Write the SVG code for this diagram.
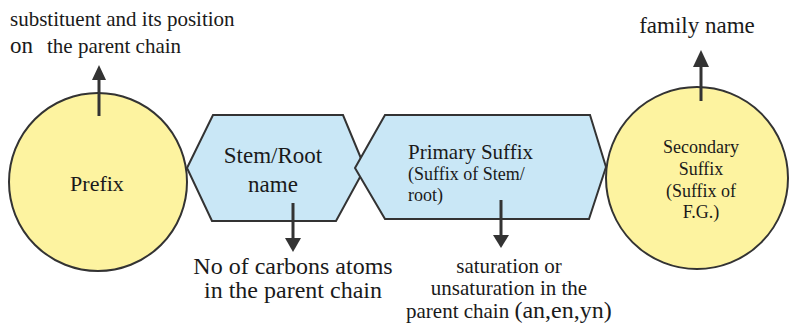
<svg xmlns="http://www.w3.org/2000/svg" width="789" height="325" viewBox="0 0 789 325">
<style>
.t{font-family:'Liberation Serif','DejaVu Serif','Times New Roman',Times,serif;fill:#1a1a1a}
.circ{fill:#fdf3a0;stroke:#333;stroke-width:2}
.hex{fill:#c9e7f6;stroke:#333;stroke-width:2;stroke-linejoin:miter}
.arr{stroke:#333;stroke-width:3;fill:none}
.head{fill:#333}
</style>
<rect width="789" height="325" fill="#fff"/>
<g id="prefix">
<circle class="circ" cx="98" cy="182" r="89"/>
<text class="t" x="97" y="191" font-size="22" text-anchor="middle">Prefix</text>
</g>
<g id="stem">
<polygon class="hex" points="187,168 213,115 343,115 365,168 336,221 212,221"/>
<text class="t" x="273" y="163" font-size="23" text-anchor="middle">Stem/Root</text>
<text class="t" x="273" y="192" font-size="23" text-anchor="middle">name</text>
</g>
<g id="primary">
<polygon class="hex" points="355,168 385,115 590,115 606,167 589,219 385,219"/>
<text class="t" x="408" y="159" font-size="21">Primary Suffix</text>
<text class="t" x="408" y="180" font-size="18">(Suffix of Stem/</text>
<text class="t" x="408" y="201" font-size="18">root)</text>
</g>
<g id="secondary">
<circle class="circ" cx="697" cy="178" r="91"/>
<text class="t" x="701" y="153" font-size="18" text-anchor="middle">Secondary</text>
<text class="t" x="701" y="175" font-size="18" text-anchor="middle">Suffix</text>
<text class="t" x="701" y="197" font-size="18" text-anchor="middle">(Suffix of</text>
<text class="t" x="701" y="218" font-size="18" text-anchor="middle">F.G.)</text>
</g>
<g id="connectors">
<line class="arr" x1="99" y1="116" x2="99" y2="78"/>
<polygon class="head" points="92,80 106,80 99,65"/>
<line class="arr" x1="701" y1="101" x2="701" y2="65"/>
<polygon class="head" points="693,67 709,67 701,50"/>
<line class="arr" x1="293" y1="203" x2="293" y2="240"/>
<polygon class="head" points="285,238 301,238 293,252"/>
<line class="arr" x1="501" y1="200" x2="501" y2="237"/>
<polygon class="head" points="493,235 509,235 501,248"/>
</g>
<g id="labels">
<text class="t" x="10" y="26" font-size="21">substituent and its position</text>
<text class="t" x="10" y="53" font-size="23">on</text>
<text class="t" x="47" y="53" font-size="21">the parent chain</text>
<text class="t" x="697" y="33" font-size="23" text-anchor="middle">family name</text>
<text class="t" x="293" y="274" font-size="24" text-anchor="middle">No of carbons atoms</text>
<text class="t" x="293" y="298" font-size="24" text-anchor="middle">in the parent chain</text>
<text class="t" x="509" y="273" font-size="21" text-anchor="middle">saturation or</text>
<text class="t" x="509" y="295" font-size="21" text-anchor="middle">unsaturation in the</text>
<text class="t" x="406" y="318" font-size="21">parent chain <tspan font-size="24">(an,en,yn)</tspan></text>
</g>
</svg>
